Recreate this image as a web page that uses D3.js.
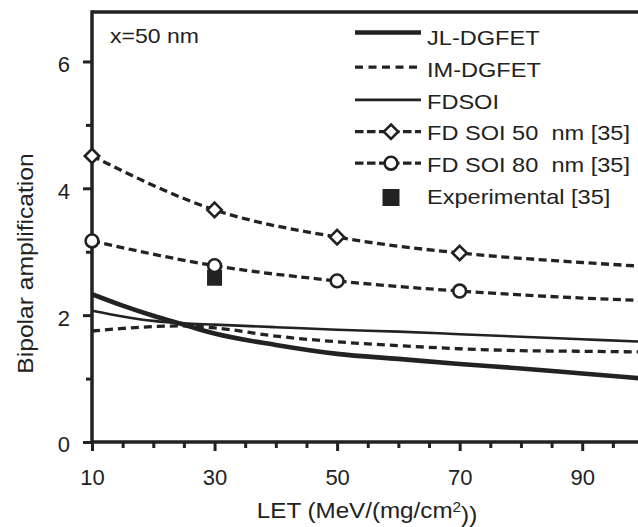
<!DOCTYPE html>
<html><head><meta charset="utf-8">
<script src="https://cdn.jsdelivr.net/npm/d3@7"></script>
<style>
body{margin:0;background:#fff}
svg{display:block}
text{font-family:"Liberation Sans",Arial,Helvetica,sans-serif;fill:#222}
</style>
</head><body>
<svg id="c" width="638" height="527"></svg>
<script>
// ---- data ----
const letX   = [10, 15, 20, 25, 30, 40, 50, 60, 70, 80, 90, 100];
const jlDG   = [2.33, 2.15, 1.99, 1.85, 1.71, 1.53, 1.39, 1.31, 1.23, 1.16, 1.08, 1.00];
const imDG   = [1.75, 1.79, 1.82, 1.83, 1.80, 1.67, 1.58, 1.52, 1.47, 1.44, 1.43, 1.42];
const fdsoi  = [2.07, 1.98, 1.91, 1.87, 1.85, 1.81, 1.77, 1.74, 1.70, 1.66, 1.62, 1.58];
const refX   = [10, 30, 50, 70, 90, 100];
const fd50   = [4.51, 3.66, 3.23, 2.98, 2.83, 2.77];
const fd80   = [3.17, 2.78, 2.54, 2.38, 2.27, 2.23];
const markerX = [10, 30, 50, 70];
const expX = [30];
const expY = [2.59];
const xTicks = [10, 30, 50, 70, 90];
const xMinor = [15, 20, 25, 35, 40, 45, 55, 60, 65, 75, 80, 85, 95];
const yTicks = [0, 2, 4, 6];
const yMinor = [1, 3, 5];
const legendLabels = ["JL-DGFET", "IM-DGFET", "FDSOI", "FD SOI 50  nm [35]", "FD SOI 80  nm [35]", "Experimental [35]"];
const legendKinds  = ["thick", "dash", "thin", "dashDiamond", "dashCircle", "square"];
const annotation = "x=50 nm";
const xTitle = "LET (MeV/(mg/cm";
const yTitle = "Bipolar amplification";

// ---- layout ----
const ink = "#222";
const L = 92, T = 12, B = 442, R = 638;
const svg = d3.select("#c");
const x = d3.scaleLinear().domain([10, 100]).range([L, 643.5]);
const y = d3.scaleLinear().domain([0, 6.78]).range([B, T]);

// axes lines
svg.append("line").attr("x1", L).attr("x2", R).attr("y1", T).attr("y2", T)
  .attr("stroke", ink).attr("stroke-width", 3.5);
svg.append("line").attr("x1", L).attr("x2", L).attr("y1", T - 1.75).attr("y2", B + 1.75)
  .attr("stroke", ink).attr("stroke-width", 3.5);
svg.append("line").attr("x1", L).attr("x2", R).attr("y1", B).attr("y2", B)
  .attr("stroke", ink).attr("stroke-width", 3.5);

function styleAxis(g) {
  g.select(".domain").remove();
  g.selectAll(".tick line").attr("stroke", ink).attr("stroke-width", 3);
  g.selectAll(".tick text").attr("fill", ink).style("font-size", "22px")
    .style("font-family", '"Liberation Sans",Arial,sans-serif');
}
const gyMaj = svg.append("g").attr("transform", `translate(${L},0)`)
  .call(d3.axisLeft(y).tickValues(yTicks).tickSize(9).tickPadding(13).tickFormat(d3.format("d")));
styleAxis(gyMaj);
gyMaj.selectAll(".tick text").attr("dy", "0.45em");
const gyMin = svg.append("g").attr("transform", `translate(${L},0)`)
  .call(d3.axisLeft(y).tickValues(yMinor).tickSize(6).tickFormat(""));
styleAxis(gyMin);

const gxMaj = svg.append("g").attr("transform", `translate(0,${B})`)
  .call(d3.axisBottom(x).tickValues(xTicks).tickSize(9).tickPadding(18).tickFormat(d3.format("d")));
styleAxis(gxMaj);
const gxMin = svg.append("g").attr("transform", `translate(0,${B})`)
  .call(d3.axisBottom(x).tickValues(xMinor).tickSize(6).tickFormat(""));
styleAxis(gxMin);

// clip
svg.append("clipPath").attr("id", "clip").append("rect")
  .attr("x", L).attr("y", T).attr("width", R - L).attr("height", B - T);

const line = d3.line().curve(d3.curveMonotoneX).x(d => x(d[0])).y(d => y(d[1]));
const plot = svg.append("g").attr("clip-path", "url(#clip)");
const zip = (xs, ys) => xs.map((v, i) => [v, ys[i]]);

plot.append("path").attr("d", line(zip(letX, fdsoi))).attr("fill", "none")
  .attr("stroke", ink).attr("stroke-width", 2.6);
plot.append("path").attr("d", line(zip(letX, imDG))).attr("fill", "none")
  .attr("stroke", ink).attr("stroke-width", 3.3).attr("stroke-dasharray", "8,5");
plot.append("path").attr("d", line(zip(letX, jlDG))).attr("fill", "none")
  .attr("stroke", ink).attr("stroke-width", 4.6);

// experimental
svg.selectAll("rect.exp").data(zip(expX, expY)).enter().append("rect").attr("class", "exp")
  .attr("x", d => x(d[0]) - 7.5).attr("y", d => y(d[1]) - 8).attr("width", 15).attr("height", 16)
  .attr("fill", ink);

plot.append("path").attr("d", line(zip(refX, fd80))).attr("fill", "none")
  .attr("stroke", ink).attr("stroke-width", 3.3).attr("stroke-dasharray", "8,4.5");
plot.append("path").attr("d", line(zip(refX, fd50))).attr("fill", "none")
  .attr("stroke", ink).attr("stroke-width", 3.3).attr("stroke-dasharray", "8,4.5");

const diamond = (cx, cy, r) => `M${cx},${cy - r}L${cx + r},${cy}L${cx},${cy + r}L${cx - r},${cy}Z`;
const m50 = zip(refX, fd50).filter(d => markerX.includes(d[0]));
const m80 = zip(refX, fd80).filter(d => markerX.includes(d[0]));
svg.selectAll("path.dia").data(m50).enter().append("path").attr("class", "dia")
  .attr("d", d => diamond(x(d[0]), y(d[1]), 7.2))
  .attr("fill", "#fff").attr("stroke", ink).attr("stroke-width", 2.6);
svg.selectAll("circle.cir").data(m80).enter().append("circle").attr("class", "cir")
  .attr("cx", d => x(d[0])).attr("cy", d => y(d[1])).attr("r", 6.4)
  .attr("fill", "#fff").attr("stroke", ink).attr("stroke-width", 2.6);

// annotation
svg.append("text").attr("transform", "translate(110,43) scale(1.15,1)")
  .style("font-size", "20px").text(annotation);

// legend
const lg = svg.append("g");
const symOffset = [-12.5, -9.7, -8.7, -8.7, -9, -6.5];
legendLabels.forEach((lab, i) => {
  const base = 45 + i * 31.8;
  const sy = base + symOffset[i];
  const k = legendKinds[i];
  const x1 = 355, x2 = 421, xc = 391;
  if (k === "thick") lg.append("line").attr("x1", x1).attr("x2", x2).attr("y1", sy).attr("y2", sy)
    .attr("stroke", ink).attr("stroke-width", 4.6);
  if (k === "thin") lg.append("line").attr("x1", x1).attr("x2", x2).attr("y1", sy).attr("y2", sy)
    .attr("stroke", ink).attr("stroke-width", 2.6);
  if (k === "dash") lg.append("line").attr("x1", x1).attr("x2", x2).attr("y1", sy).attr("y2", sy)
    .attr("stroke", ink).attr("stroke-width", 3.3).attr("stroke-dasharray", "8,5.5");
  if (k === "dashDiamond" || k === "dashCircle") {
    lg.append("line").attr("x1", x1).attr("x2", x2).attr("y1", sy).attr("y2", sy)
      .attr("stroke", ink).attr("stroke-width", 3.3).attr("stroke-dasharray", "8.5,3.5");
    if (k === "dashDiamond") lg.append("path").attr("d", diamond(xc, sy, 7.2))
      .attr("fill", "#fff").attr("stroke", ink).attr("stroke-width", 2.6);
    else lg.append("circle").attr("cx", xc).attr("cy", sy).attr("r", 6.4)
      .attr("fill", "#fff").attr("stroke", ink).attr("stroke-width", 2.6);
  }
  if (k === "square") lg.append("rect").attr("x", xc - 8.5).attr("y", sy - 8.5)
    .attr("width", 17).attr("height", 17).attr("fill", ink);
  lg.append("text").attr("transform", `translate(427,${base}) scale(1.15,1)`)
    .style("font-size", "20.5px").style("white-space", "pre").text(lab);
});

// axis titles
const xt = svg.append("text").attr("transform", "translate(367,518) scale(1.1,1)")
  .attr("text-anchor", "middle").style("font-size", "22px");
xt.append("tspan").text(xTitle);
xt.append("tspan").attr("dy", "-0.45em").style("font-size", "14px").text("2");
xt.append("tspan").attr("dy", "0.45em").text("))");

svg.append("text").attr("transform", "translate(33,263.5) rotate(-90) scale(1.12,1)")
  .attr("text-anchor", "middle").style("font-size", "22px").text(yTitle);
</script>
</body></html>
